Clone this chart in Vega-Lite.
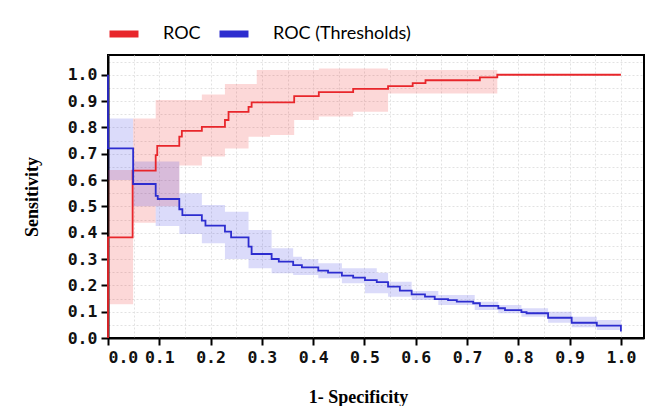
{
  "$schema": "https://vega.github.io/schema/vega-lite/v6.json",
  "autosize": {"type": "none"},
  "width": 536,
  "height": 283,
  "padding": {"left": 108, "top": 55, "right": 8, "bottom": 68},
  "background": "white",
  "config": {
    "view": {"stroke": "black", "strokeWidth": 2},
    "axis": {
      "domainColor": "black",
      "domainWidth": 2,
      "tickColor": "black",
      "tickWidth": 2,
      "tickSize": 7,
      "labelFont": "DejaVu Sans Mono",
      "labelFontSize": 16.5,
      "labelFontWeight": "bold",
      "labelColor": "#111111",
      "labelPadding": 4,
      "gridColor": "#e2e2e2",
      "gridDash": [2, 2],
      "gridWidth": 1,
      "titleFont": "Liberation Serif",
      "titleFontSize": 18,
      "titleFontWeight": "bold",
      "titleColor": "black"
    },
    "legend": {
      "orient": "none",
      "legendX": -2,
      "legendY": -39,
      "direction": "horizontal",
      "symbolType": "stroke",
      "symbolStrokeWidth": 7,
      "symbolSize": 840,
      "labelFont": "Lato",
      "labelFontSize": 18,
      "labelColor": "black",
      "labelOffset": 21,
      "columnPadding": 4,
      "title": null
    }
  },
  "encoding": {
    "x": {
      "field": "x",
      "type": "quantitative",
      "scale": {"domain": [0, 1.045], "nice": false, "zero": false},
      "axis": {
        "title": "1- Specificity",
        "values": [0, 0.05, 0.1, 0.15, 0.2, 0.25, 0.3, 0.35, 0.4, 0.45, 0.5, 0.55, 0.6, 0.65, 0.7, 0.75, 0.8, 0.85, 0.9, 0.95, 1.0],
        "labelExpr": "round(datum.value*20) % 2 == 0 ? format(datum.value, '.1f') : ''",
        "tickOpacity": {"condition": {"test": "round(datum.value*20) % 2 == 0", "value": 1}, "value": 0},
        "titleX": 250,
        "titleY": 50,
        "titleAnchor": "middle"
      }
    }
  },
  "layer": [
    {
      "data": {"values": [
        {"x": 0, "lo": 0.128, "hi": 0.638},
        {"x": 0.049, "lo": 0.438, "hi": 0.834},
        {"x": 0.093, "lo": 0.5, "hi": 0.904},
        {"x": 0.139, "lo": 0.655, "hi": 0.904},
        {"x": 0.183, "lo": 0.689, "hi": 0.925},
        {"x": 0.228, "lo": 0.72, "hi": 0.965},
        {"x": 0.274, "lo": 0.764, "hi": 0.965},
        {"x": 0.29, "lo": 0.764, "hi": 1.018},
        {"x": 0.316, "lo": 0.771, "hi": 1.018},
        {"x": 0.363, "lo": 0.828, "hi": 1.018},
        {"x": 0.411, "lo": 0.841, "hi": 1.024},
        {"x": 0.478, "lo": 0.859, "hi": 1.024},
        {"x": 0.546, "lo": 0.929, "hi": 1.018},
        {"x": 0.759, "lo": 0.929, "hi": 1.018}
      ]},
      "mark": {"type": "area", "interpolate": "step-after", "color": "#f23a3a", "opacity": 0.2},
      "encoding": {
        "y": {
          "field": "lo", "type": "quantitative",
          "scale": {"domain": [0, 1.075], "nice": false},
          "axis": {
            "title": "Sensitivity",
            "values": [0, 0.05, 0.1, 0.15, 0.2, 0.25, 0.3, 0.35, 0.4, 0.45, 0.5, 0.55, 0.6, 0.65, 0.7, 0.75, 0.8, 0.85, 0.9, 0.95, 1.0, 1.05],
            "labelExpr": "round(datum.value*20) % 2 == 0 && datum.value < 1.01 ? format(datum.value, '.1f') : ''",
            "tickOpacity": {"condition": {"test": "round(datum.value*20) % 2 == 0 && datum.value < 1.01", "value": 1}, "value": 0},
            "titlePadding": 26
          }
        },
        "y2": {"field": "hi"}
      }
    },
    {
      "data": {"values": [
        {"x": 0, "lo": 0.6, "hi": 0.834},
        {"x": 0.049, "lo": 0.5, "hi": 0.67},
        {"x": 0.093, "lo": 0.425, "hi": 0.67},
        {"x": 0.139, "lo": 0.395, "hi": 0.55},
        {"x": 0.183, "lo": 0.36, "hi": 0.505},
        {"x": 0.228, "lo": 0.3, "hi": 0.48},
        {"x": 0.274, "lo": 0.265, "hi": 0.41},
        {"x": 0.319, "lo": 0.246, "hi": 0.341},
        {"x": 0.361, "lo": 0.239, "hi": 0.309},
        {"x": 0.378, "lo": 0.239, "hi": 0.299},
        {"x": 0.41, "lo": 0.227, "hi": 0.284},
        {"x": 0.456, "lo": 0.208, "hi": 0.265},
        {"x": 0.501, "lo": 0.17, "hi": 0.265},
        {"x": 0.524, "lo": 0.17, "hi": 0.248},
        {"x": 0.546, "lo": 0.157, "hi": 0.214},
        {"x": 0.592, "lo": 0.144, "hi": 0.179},
        {"x": 0.644, "lo": 0.125, "hi": 0.163},
        {"x": 0.715, "lo": 0.106, "hi": 0.138},
        {"x": 0.761, "lo": 0.094, "hi": 0.125},
        {"x": 0.806, "lo": 0.081, "hi": 0.113},
        {"x": 0.858, "lo": 0.058, "hi": 0.1},
        {"x": 0.904, "lo": 0.041, "hi": 0.081},
        {"x": 0.953, "lo": 0.03, "hi": 0.068},
        {"x": 1.0, "lo": 0.03, "hi": 0.068}
      ]},
      "mark": {"type": "area", "interpolate": "step-after", "color": "#3a3ae6", "opacity": 0.18},
      "encoding": {
        "y": {
          "field": "lo", "type": "quantitative",
          "scale": {"domain": [0, 1.075], "nice": false},
          "axis": {
            "title": "Sensitivity",
            "values": [0, 0.05, 0.1, 0.15, 0.2, 0.25, 0.3, 0.35, 0.4, 0.45, 0.5, 0.55, 0.6, 0.65, 0.7, 0.75, 0.8, 0.85, 0.9, 0.95, 1.0, 1.05],
            "labelExpr": "round(datum.value*20) % 2 == 0 && datum.value < 1.01 ? format(datum.value, '.1f') : ''",
            "tickOpacity": {"condition": {"test": "round(datum.value*20) % 2 == 0 && datum.value < 1.01", "value": 1}, "value": 0},
            "titlePadding": 26
          }
        },
        "y2": {"field": "hi"}
      }
    },
    {
      "data": {"values": [
        {"s": "ROC", "x": 0, "y": 0},
        {"s": "ROC", "x": 0, "y": 0.382},
        {"s": "ROC", "x": 0.048, "y": 0.636},
        {"s": "ROC", "x": 0.093, "y": 0.695},
        {"s": "ROC", "x": 0.096, "y": 0.73},
        {"s": "ROC", "x": 0.139, "y": 0.765},
        {"s": "ROC", "x": 0.144, "y": 0.787},
        {"s": "ROC", "x": 0.183, "y": 0.802},
        {"s": "ROC", "x": 0.228, "y": 0.828},
        {"s": "ROC", "x": 0.235, "y": 0.859},
        {"s": "ROC", "x": 0.274, "y": 0.878},
        {"s": "ROC", "x": 0.28, "y": 0.895},
        {"s": "ROC", "x": 0.363, "y": 0.919},
        {"s": "ROC", "x": 0.411, "y": 0.934},
        {"s": "ROC", "x": 0.478, "y": 0.946},
        {"s": "ROC", "x": 0.546, "y": 0.957},
        {"s": "ROC", "x": 0.594, "y": 0.968},
        {"s": "ROC", "x": 0.619, "y": 0.979},
        {"s": "ROC", "x": 0.725, "y": 0.99},
        {"s": "ROC", "x": 0.759, "y": 1.0},
        {"s": "ROC", "x": 1.0, "y": 1.0},
        {"s": "ROC (Thresholds)", "x": 0, "y": 1.0},
        {"s": "ROC (Thresholds)", "x": 0, "y": 0.72},
        {"s": "ROC (Thresholds)", "x": 0.049, "y": 0.585},
        {"s": "ROC (Thresholds)", "x": 0.093, "y": 0.54},
        {"s": "ROC (Thresholds)", "x": 0.097, "y": 0.528},
        {"s": "ROC (Thresholds)", "x": 0.139, "y": 0.489},
        {"s": "ROC (Thresholds)", "x": 0.145, "y": 0.467},
        {"s": "ROC (Thresholds)", "x": 0.183, "y": 0.446},
        {"s": "ROC (Thresholds)", "x": 0.19, "y": 0.427},
        {"s": "ROC (Thresholds)", "x": 0.228, "y": 0.404},
        {"s": "ROC (Thresholds)", "x": 0.24, "y": 0.382},
        {"s": "ROC (Thresholds)", "x": 0.274, "y": 0.347},
        {"s": "ROC (Thresholds)", "x": 0.28, "y": 0.319},
        {"s": "ROC (Thresholds)", "x": 0.319, "y": 0.3},
        {"s": "ROC (Thresholds)", "x": 0.333, "y": 0.29},
        {"s": "ROC (Thresholds)", "x": 0.361, "y": 0.277},
        {"s": "ROC (Thresholds)", "x": 0.378, "y": 0.268},
        {"s": "ROC (Thresholds)", "x": 0.41, "y": 0.256},
        {"s": "ROC (Thresholds)", "x": 0.429, "y": 0.248},
        {"s": "ROC (Thresholds)", "x": 0.456, "y": 0.237},
        {"s": "ROC (Thresholds)", "x": 0.478, "y": 0.229},
        {"s": "ROC (Thresholds)", "x": 0.501, "y": 0.22},
        {"s": "ROC (Thresholds)", "x": 0.524, "y": 0.212},
        {"s": "ROC (Thresholds)", "x": 0.546, "y": 0.195},
        {"s": "ROC (Thresholds)", "x": 0.569, "y": 0.18},
        {"s": "ROC (Thresholds)", "x": 0.592, "y": 0.166},
        {"s": "ROC (Thresholds)", "x": 0.618, "y": 0.157},
        {"s": "ROC (Thresholds)", "x": 0.637, "y": 0.148},
        {"s": "ROC (Thresholds)", "x": 0.663, "y": 0.144},
        {"s": "ROC (Thresholds)", "x": 0.68, "y": 0.138},
        {"s": "ROC (Thresholds)", "x": 0.712, "y": 0.132},
        {"s": "ROC (Thresholds)", "x": 0.725, "y": 0.122},
        {"s": "ROC (Thresholds)", "x": 0.761, "y": 0.113},
        {"s": "ROC (Thresholds)", "x": 0.774, "y": 0.106},
        {"s": "ROC (Thresholds)", "x": 0.806, "y": 0.098},
        {"s": "ROC (Thresholds)", "x": 0.816, "y": 0.094},
        {"s": "ROC (Thresholds)", "x": 0.858, "y": 0.077},
        {"s": "ROC (Thresholds)", "x": 0.904, "y": 0.058},
        {"s": "ROC (Thresholds)", "x": 0.953, "y": 0.047},
        {"s": "ROC (Thresholds)", "x": 1.0, "y": 0.025}
      ]},
      "mark": {"type": "line", "interpolate": "step-after", "strokeWidth": 1.8},
      "encoding": {
        "y": {
          "field": "y", "type": "quantitative",
          "scale": {"domain": [0, 1.075], "nice": false},
          "axis": {
            "title": "Sensitivity",
            "values": [0, 0.05, 0.1, 0.15, 0.2, 0.25, 0.3, 0.35, 0.4, 0.45, 0.5, 0.55, 0.6, 0.65, 0.7, 0.75, 0.8, 0.85, 0.9, 0.95, 1.0, 1.05],
            "labelExpr": "round(datum.value*20) % 2 == 0 && datum.value < 1.01 ? format(datum.value, '.1f') : ''",
            "tickOpacity": {"condition": {"test": "round(datum.value*20) % 2 == 0 && datum.value < 1.01", "value": 1}, "value": 0},
            "titlePadding": 26
          }
        },
        "color": {
          "field": "s", "type": "nominal",
          "scale": {"domain": ["ROC", "ROC (Thresholds)"], "range": ["#e8262b", "#2d2dcf"]},
          "legend": {"title": null}
        }
      }
    }
  ]
}
